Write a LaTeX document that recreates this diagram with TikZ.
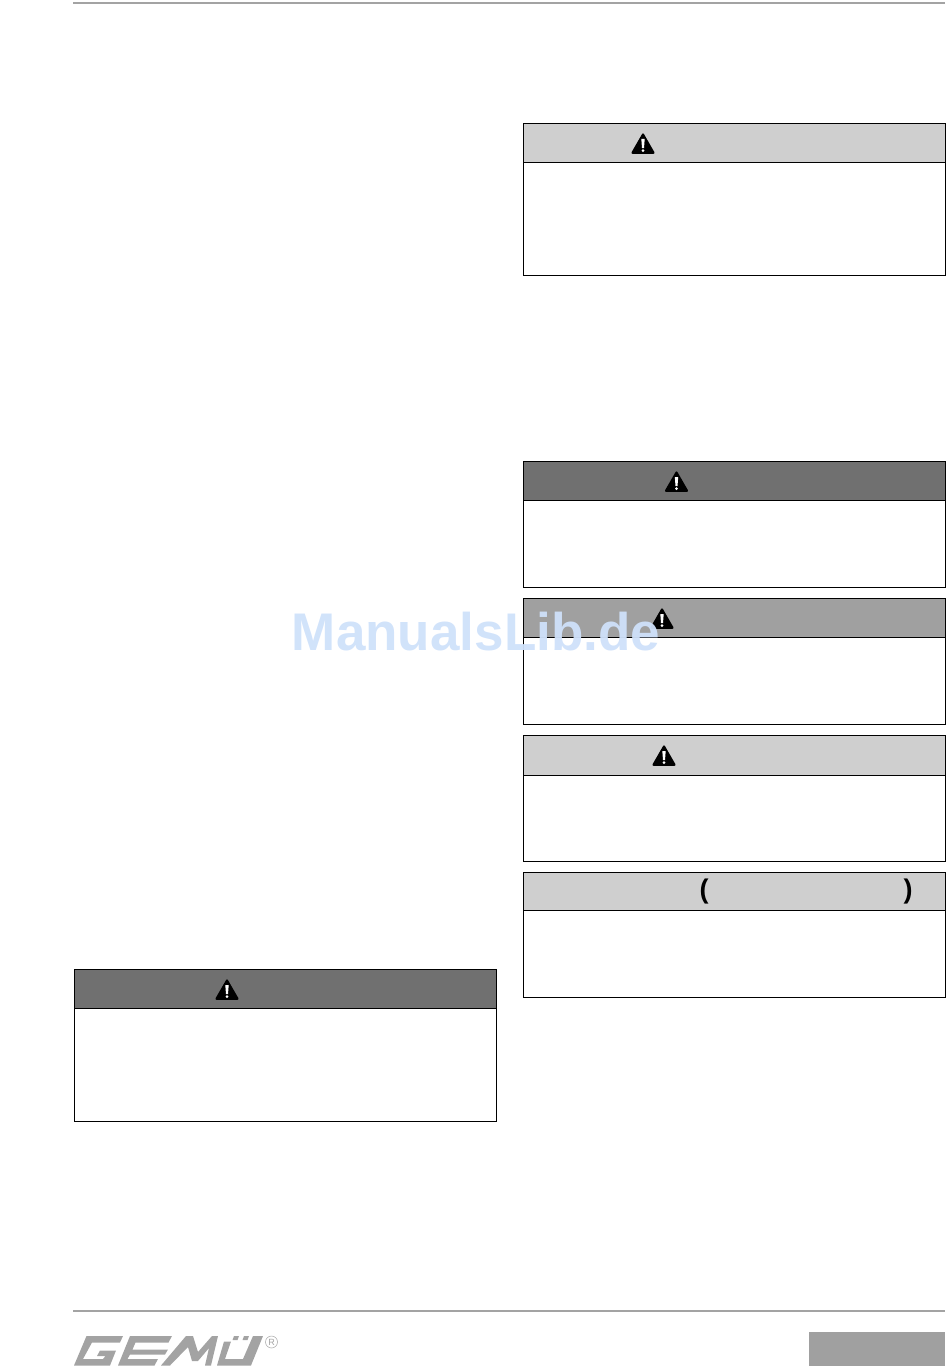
\documentclass[tikz,border=0pt]{standalone}
\usepackage{fontspec}
\setmainfont{Liberation Sans}
\definecolor{barlight}{HTML}{CFCFCF}
\definecolor{barmid}{HTML}{A0A0A0}
\definecolor{bardark}{HTML}{707070}
\definecolor{rulegray}{HTML}{A3A3A3}
\definecolor{wm}{HTML}{CFE1FA}
\tikzset{
 x=1pt,y=-1pt,
 boxbody/.style={draw=black,line width=1pt,fill=white},
 warntri/.style={fill=black,draw=black,line width=2pt,line join=round},
 pagerule/.style={rulegray,line width=2pt},
 logoshape/.style={fill=rulegray,draw=none},
 paren/.style={inner sep=0pt,font=\bfseries\fontsize{27}{27}\selectfont},
}
\newcommand{\wbox}[6]{% x0, x1, y0, ybar, y1, colour
 \draw[boxbody] (#1,#3) rectangle (#2,#5);
 \filldraw[boxbody,fill=#6] (#1,#3) rectangle (#2,#4);
}
\newcommand{\wtri}[2]{%
 \fill[warntri] (#1-10.6,#2+8.8) -- (#1,#2-9.6) -- (#1+10.6,#2+8.8) -- cycle;
 \fill[white] (#1-1.7,#2-5) -- (#1+1.7,#2-5) -- (#1+1,#2+4) -- (#1-1,#2+4) -- cycle;
 \fill[white] (#1,#2+6.6) circle (1.5);
}
\begin{document}
\begin{tikzpicture}
\useasboundingbox (0,0) rectangle (950,1370);
% page rules
\coordinate (hl) at (73,3.5); \coordinate (hr) at (945,3.5);
\draw[pagerule] (hl) -- (hr);
\coordinate (fl) at (73,1311); \coordinate (fr) at (945,1311);
\draw[pagerule] (fl) -- (fr);
\fill[barmid] (809,1332) rectangle (945,1366);
% boxes
\wbox{74}{496.5}{969}{1008.5}{1121}{bardark}
\wtri{227}{990}
\wbox{523.5}{945.5}{124}{162.5}{275}{barlight}
\wtri{643}{144}
\wbox{523.5}{945.5}{461.5}{500.5}{587}{bardark}
\wtri{676.5}{482}
\wbox{523.5}{945.5}{598.5}{637.5}{724}{barmid}
\wtri{662}{619}
\wbox{523.5}{945.5}{735.5}{775}{861}{barlight}
\wtri{664}{756}
\wbox{523.5}{945.5}{872}{910.5}{997}{barlight}
\node[paren] (pl) at (704,892) {(};
\node[paren] (pr) at (908,892) {)};
% logo
\fill[logoshape] (86.5,1336) -- (123,1336) -- (120,1342.5) -- (92,1342.5) -- (83,1359) -- (103,1359) -- (105.5,1356) -- (97,1356) -- (100,1350.5) -- (116,1350.5) -- (110,1365.5) -- (74,1365.5) -- cycle;
\fill[logoshape] (130,1336) -- (172,1336) -- (168.5,1342.5) -- (135.5,1342.5) -- (132.5,1349.5) -- (168,1349.5) -- (165,1354.5) -- (130,1354.5) -- (127.5,1359) -- (158,1359) -- (154.5,1365.5) -- (118,1365.5) -- cycle;
\fill[logoshape] (161,1365.5) -- (186,1336) -- (193,1336) -- (198,1352) -- (212,1336) -- (218,1336) -- (211,1365.5) -- (205,1365.5) -- (209,1348) -- (198,1361) -- (192,1361) -- (188,1347) -- (170,1365.5) -- cycle;
\fill[logoshape] (224,1341.5) -- (231,1341.5) -- (225,1359) -- (243,1359) -- (253,1336) -- (263,1336) -- (251,1365.5) -- (217,1365.5) -- cycle;
\fill[logoshape] (234,1336) -- (239,1336) -- (237.5,1340) -- (232.5,1340) -- cycle;
\fill[logoshape] (244,1336) -- (249,1336) -- (247.5,1340) -- (242.5,1340) -- cycle;
\node[draw=rulegray,line width=.5pt,circle,inner sep=0pt,minimum size=12pt,text=rulegray,font=\fontsize{9}{9}\selectfont] (reg) at (271.5,1342) {R};
% watermark
\node[inner sep=0pt,text=wm,font=\bfseries\fontsize{53}{53}\selectfont,opacity=.95] (wmark) at (476,632) {ManualsLib.de};
\end{tikzpicture}
\end{document}
